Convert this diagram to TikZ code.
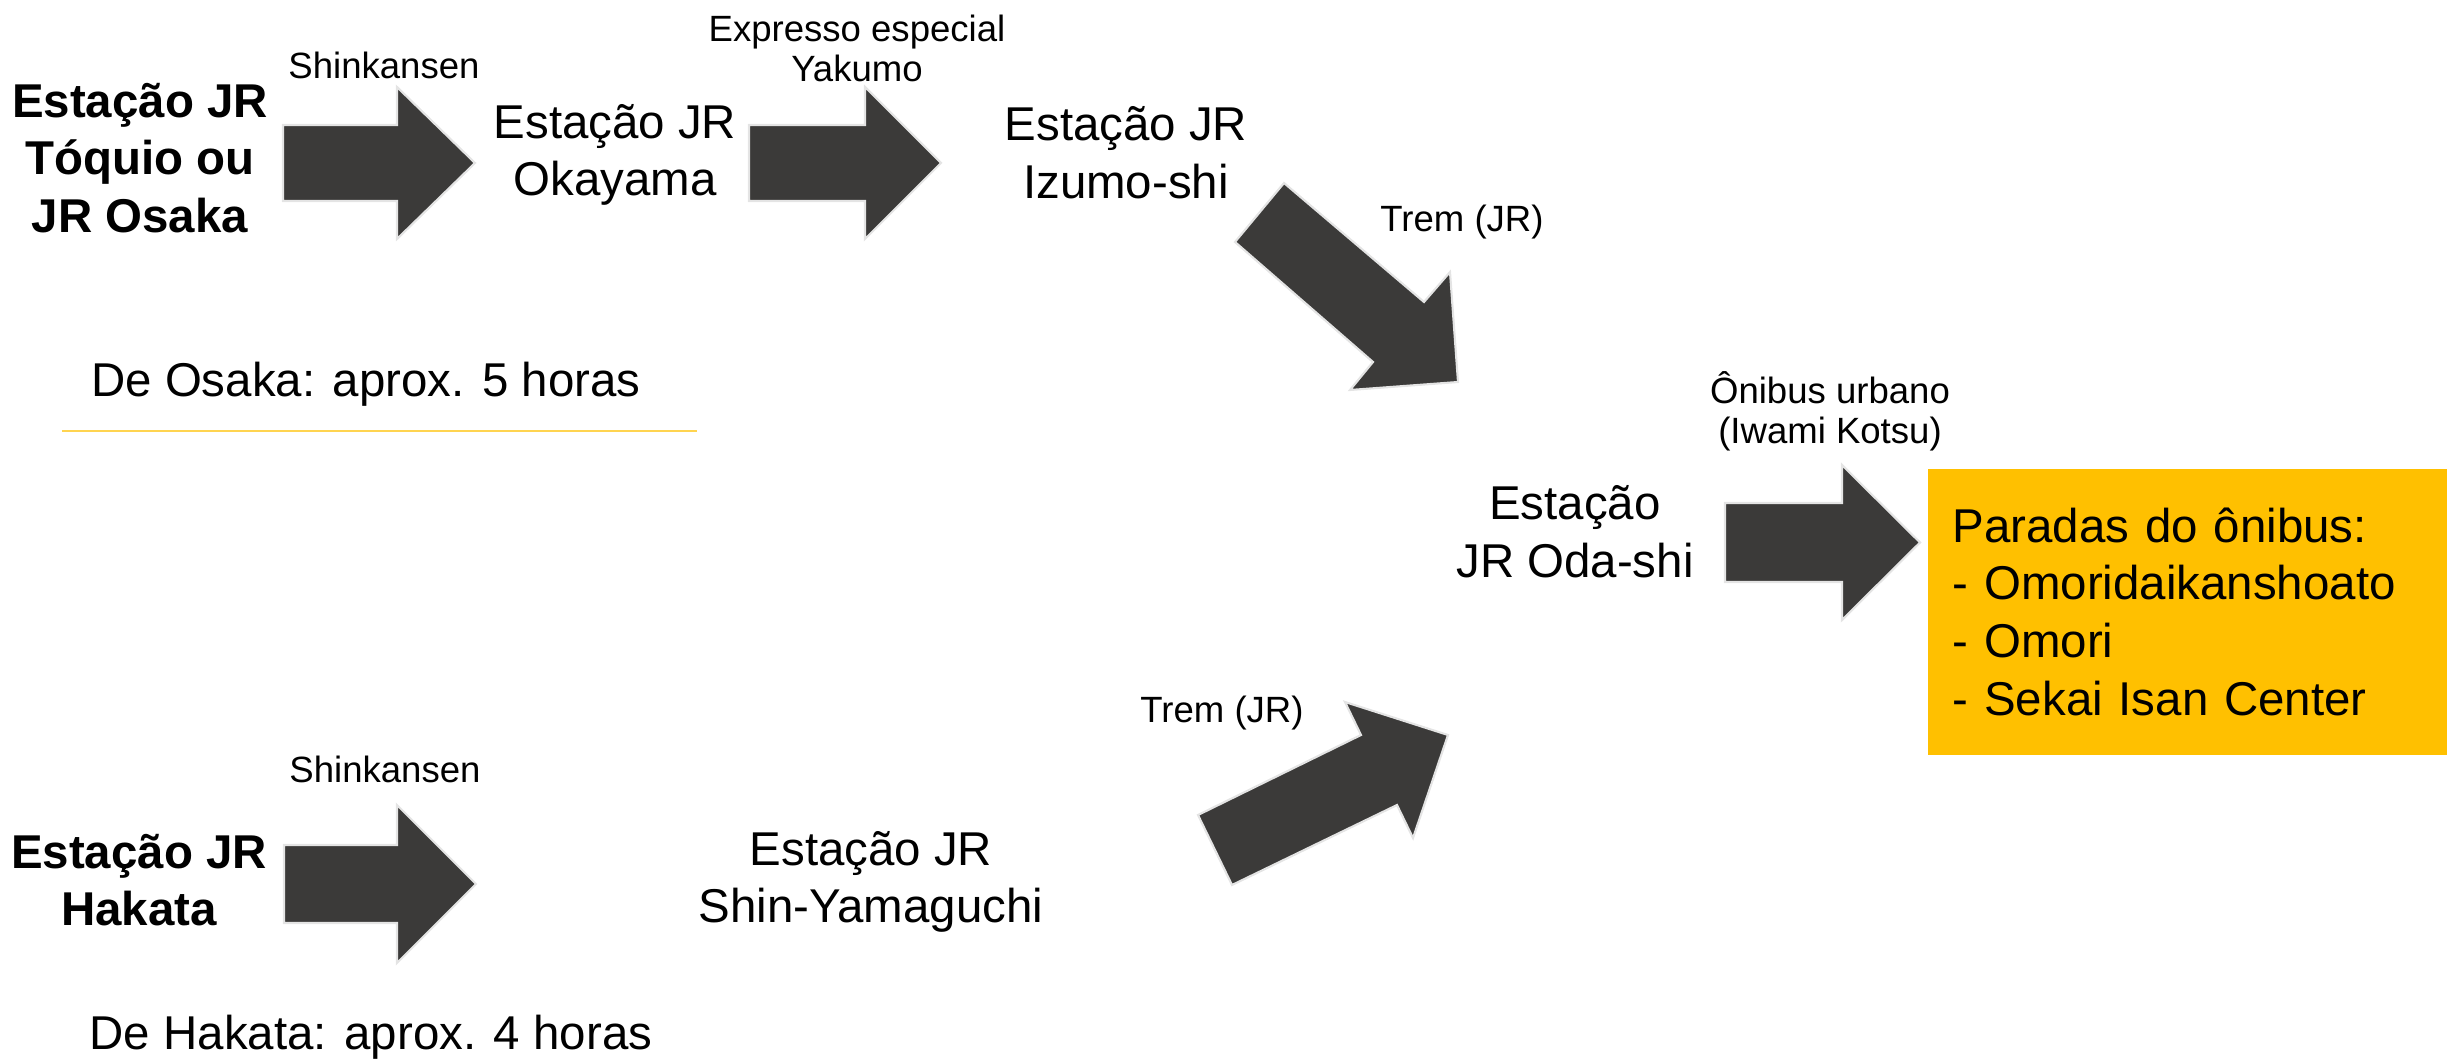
\documentclass[tikz,border=0pt]{standalone}
\usepackage{fontspec}
\setmainfont{Liberation Sans}
\definecolor{arrowgray}{RGB}{59,58,57}
\definecolor{edgegray}{RGB}{228,228,228}
\definecolor{stopgold}{RGB}{255,192,0}
\definecolor{rulegold}{RGB}{255,212,80}
\newcommand{\bigtext}{\fontsize{13.5}{16.4}\selectfont}
\newcommand{\smalltext}{\fontsize{10.4}{11.4}\selectfont}
\begin{document}
\begin{tikzpicture}
    [inner sep=0pt,
     station/.style={align=center,font=\bigtext},
     route/.style={align=center,font=\smalltext},
     blockarrow/.style={fill=arrowgray,draw=edgegray,line width=0.6pt,line join=miter}]

    \useasboundingbox (0, 0) rectangle (24.53, -10.63);

    % starting stations:
    \node (tokyo) at (1.40, -1.58) [station] {\bfseries Estação JR\\\bfseries Tóquio ou\\\bfseries JR Osaka};
    \node (hakata) at (1.39, -8.80) [station] {\bfseries Estação JR\\\bfseries Hakata};

    % stations on the way:
    \node (okayama) at (6.15, -1.55) [station] {Estação JR\\Okayama};
    \node (izumo) at (11.26, -1.53) [station] {Estação JR\\Izumo-shi};
    \node (yamaguchi) at (8.71, -8.82) [station] {Estação JR\\Shin-Yamaguchi};
    \node (oda) at (15.75, -5.32) [station] {Estação\\JR Oda-shi};

    % bus stops:
    \node (stops) at (19.27, -4.68) [anchor=north west,fill=stopgold,
      minimum width=5.19cm,minimum height=2.86cm,text width=4.69cm,
      inner xsep=0.25cm,align=left,font=\bigtext]
      {Paradas do ônibus:\\- Omoridaikanshoato\\- Omori\\- Sekai Isan Center};

    % route labels:
    \node (shink1) at (3.84, -0.65) [route] {Shinkansen};
    \node (yakumo) at (8.57, -0.48) [route] {Expresso especial\\Yakumo};
    \node (trem1) at (14.62, -2.22) [route] {Trem (JR)};
    \node (bus) at (18.30, -4.11) [route] {Ônibus urbano\\(Iwami Kotsu)};
    \node (shink2) at (3.85, -7.69) [route] {Shinkansen};
    \node (trem2) at (12.22, -7.13) [route] {Trem (JR)};

    % travel times:
    \node (osaka) at (3.66, -3.84) [font=\bigtext] {De Osaka: aprox. 5 horas};
    \node (fukuoka) at (3.71, -10.37) [font=\bigtext] {De Hakata: aprox. 4 horas};

    \coordinate (rulel) at (0.62, -4.31);
    \coordinate (ruler) at (6.97, -4.31);
    \draw [rulegold,line width=0.6pt] (rulel) -- (ruler);

    % block arrows:
    \draw [blockarrow] (2.83, -1.25) -- (3.97, -1.25) -- (3.97, -0.87) -- (4.75, -1.63)
      -- (3.97, -2.39) -- (3.97, -2.01) -- (2.83, -2.01) -- cycle;
    \draw [blockarrow] (7.49, -1.25) -- (8.65, -1.25) -- (8.65, -0.87) -- (9.41, -1.63)
      -- (8.65, -2.39) -- (8.65, -2.01) -- (7.49, -2.01) -- cycle;
    \draw [blockarrow] (12.84, -1.83) -- (14.24, -3.02) -- (14.50, -2.72) -- (14.58, -3.82)
      -- (13.50, -3.90) -- (13.73, -3.62) -- (12.35, -2.42) -- cycle;
    \draw [blockarrow] (17.25, -5.03) -- (18.42, -5.03) -- (18.42, -4.65) -- (19.20, -5.425)
      -- (18.42, -6.20) -- (18.42, -5.82) -- (17.25, -5.82) -- cycle;
    \draw [blockarrow] (2.84, -8.45) -- (3.97, -8.45) -- (3.97, -8.05) -- (4.76, -8.84)
      -- (3.97, -9.63) -- (3.97, -9.23) -- (2.84, -9.23) -- cycle;
    \draw [blockarrow] (12.32, -8.85) -- (11.98, -8.15) -- (13.61, -7.35) -- (13.45, -7.02)
      -- (14.48, -7.35) -- (14.13, -8.38) -- (13.97, -8.05) -- cycle;

  \end{tikzpicture}
\end{document}
